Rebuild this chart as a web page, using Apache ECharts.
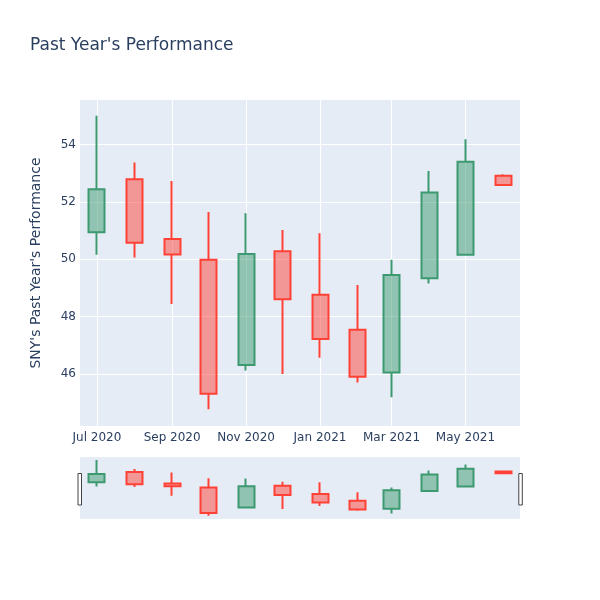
<!DOCTYPE html>
<html><head><meta charset="utf-8">
<script src="https://cdn.jsdelivr.net/npm/echarts@6/dist/echarts.min.js"></script>
<style>html,body{margin:0;padding:0;background:#fff}#c{width:600px;height:600px}</style>
</head><body><div id="c"></div>
<script>
const dates = ["2020-07-01","2020-08-01","2020-09-01","2020-10-01","2020-11-01","2020-12-01",
               "2021-01-01","2021-02-01","2021-03-01","2021-04-01","2021-05-01","2021-06-01"];
const openV  = [50.94, 52.79, 50.71, 49.98, 46.32, 50.28, 48.76, 47.54, 46.05, 49.34, 50.16, 52.91];
const closeV = [52.44, 50.58, 50.17, 45.31, 50.18, 48.61, 47.22, 45.91, 49.45, 52.33, 53.40, 52.59];
const lowV   = [50.16, 50.06, 48.44, 44.77, 46.12, 46.00, 46.57, 45.71, 45.19, 49.16, 50.15, 52.59];
const highV  = [55.00, 53.37, 52.73, 51.65, 51.60, 51.02, 50.91, 49.10, 49.98, 53.08, 54.18, 52.96];
const tickDates  = ["2020-07-01","2020-09-01","2020-11-01","2021-01-01","2021-03-01","2021-05-01"];
const tickLabels = ["Jul 2020","Sep 2020","Nov 2020","Jan 2021","Mar 2021","May 2021"];
const yTicks = [46, 48, 50, 52, 54];

const DAY = 86400000;
const t0 = Date.parse(dates[0]);
const dayOf = d => Math.round((Date.parse(d) - t0) / DAY);
const xData = dates.map(dayOf);
const tickX = tickDates.map(dayOf);
const labelMap = {};
tickX.forEach((v, i) => labelMap[v] = tickLabels[i]);

const candleData = xData.map((x, i) => [x, openV[i], closeV[i], lowV[i], highV[i]]);
const X_MIN = -14, X_MAX = 349;
const Y_MIN = 44.19, Y_MAX = 55.55;
const INC = '#3D9970', DEC = '#FF4136';
const FONT = '"DejaVu Sans", verdana, sans-serif';
const TXT = '#2a3f5f';

const chart = echarts.init(document.getElementById('c'), null, {renderer: 'canvas'});
const candleStyle = {
  color: 'rgba(61,153,112,0.5)', color0: 'rgba(255,65,54,0.5)',
  borderColor: INC, borderColor0: DEC, borderWidth: 2
};
chart.setOption({
  animation: false,
  backgroundColor: '#fff',
  title: {
    text: "Past Year's Performance", left: 30, top: 37, padding: 0,
    textStyle: {fontFamily: FONT, fontSize: 17, fontWeight: 'normal', color: TXT}
  },
  grid: [
    {left: 80, top: 100, width: 440, height: 326, show: true, backgroundColor: '#E5ECF6', borderWidth: 0},
    {left: 80, top: 457, width: 440, height: 62, show: true, backgroundColor: '#E5ECF6', borderWidth: 0}
  ],
  xAxis: [
    {type: 'value', gridIndex: 0, min: X_MIN, max: X_MAX,
     axisLine: {show: false},
     axisTick: {show: false, customValues: tickX},
     axisLabel: {customValues: tickX, formatter: v => labelMap[v] || '', color: TXT, fontFamily: FONT, fontSize: 12, margin: 6},
     splitLine: {show: true, lineStyle: {color: '#fff', width: 1}}},
    {type: 'value', gridIndex: 1, min: X_MIN, max: X_MAX,
     axisLine: {show: false}, axisTick: {show: false}, axisLabel: {show: false}, splitLine: {show: false}}
  ],
  yAxis: [
    {type: 'value', gridIndex: 0, min: Y_MIN, max: Y_MAX,
     name: "SNY's Past Year's Performance", nameLocation: 'middle', nameGap: 37,
     nameTextStyle: {fontFamily: FONT, fontSize: 14, color: TXT},
     axisLine: {show: false},
     axisTick: {show: false, customValues: yTicks},
     axisLabel: {customValues: yTicks, color: TXT, fontFamily: FONT, fontSize: 12, margin: 4},
     splitLine: {show: true, lineStyle: {color: '#fff', width: 1}}},
    {type: 'value', gridIndex: 1, min: Y_MIN, max: Y_MAX,
     axisLine: {show: false}, axisTick: {show: false}, axisLabel: {show: false}, splitLine: {show: false}}
  ],
  series: [
    {type: 'candlestick', xAxisIndex: 0, yAxisIndex: 0, data: candleData,
     encode: {x: 0, y: [1, 2, 3, 4]}, barWidth: 16.5, itemStyle: candleStyle},
    {type: 'candlestick', xAxisIndex: 1, yAxisIndex: 1, data: candleData,
     encode: {x: 0, y: [1, 2, 3, 4]}, barWidth: 16.5, itemStyle: candleStyle}
  ],
  graphic: [
    {type: 'rect', shape: {x: 78, y: 473.5, width: 3.5, height: 31.5},
     style: {fill: '#fff', stroke: '#444', lineWidth: 1}, z: 100},
    {type: 'rect', shape: {x: 518.8, y: 473.5, width: 3.5, height: 31.5},
     style: {fill: '#fff', stroke: '#444', lineWidth: 1}, z: 100}
  ]
});
</script></body></html>
